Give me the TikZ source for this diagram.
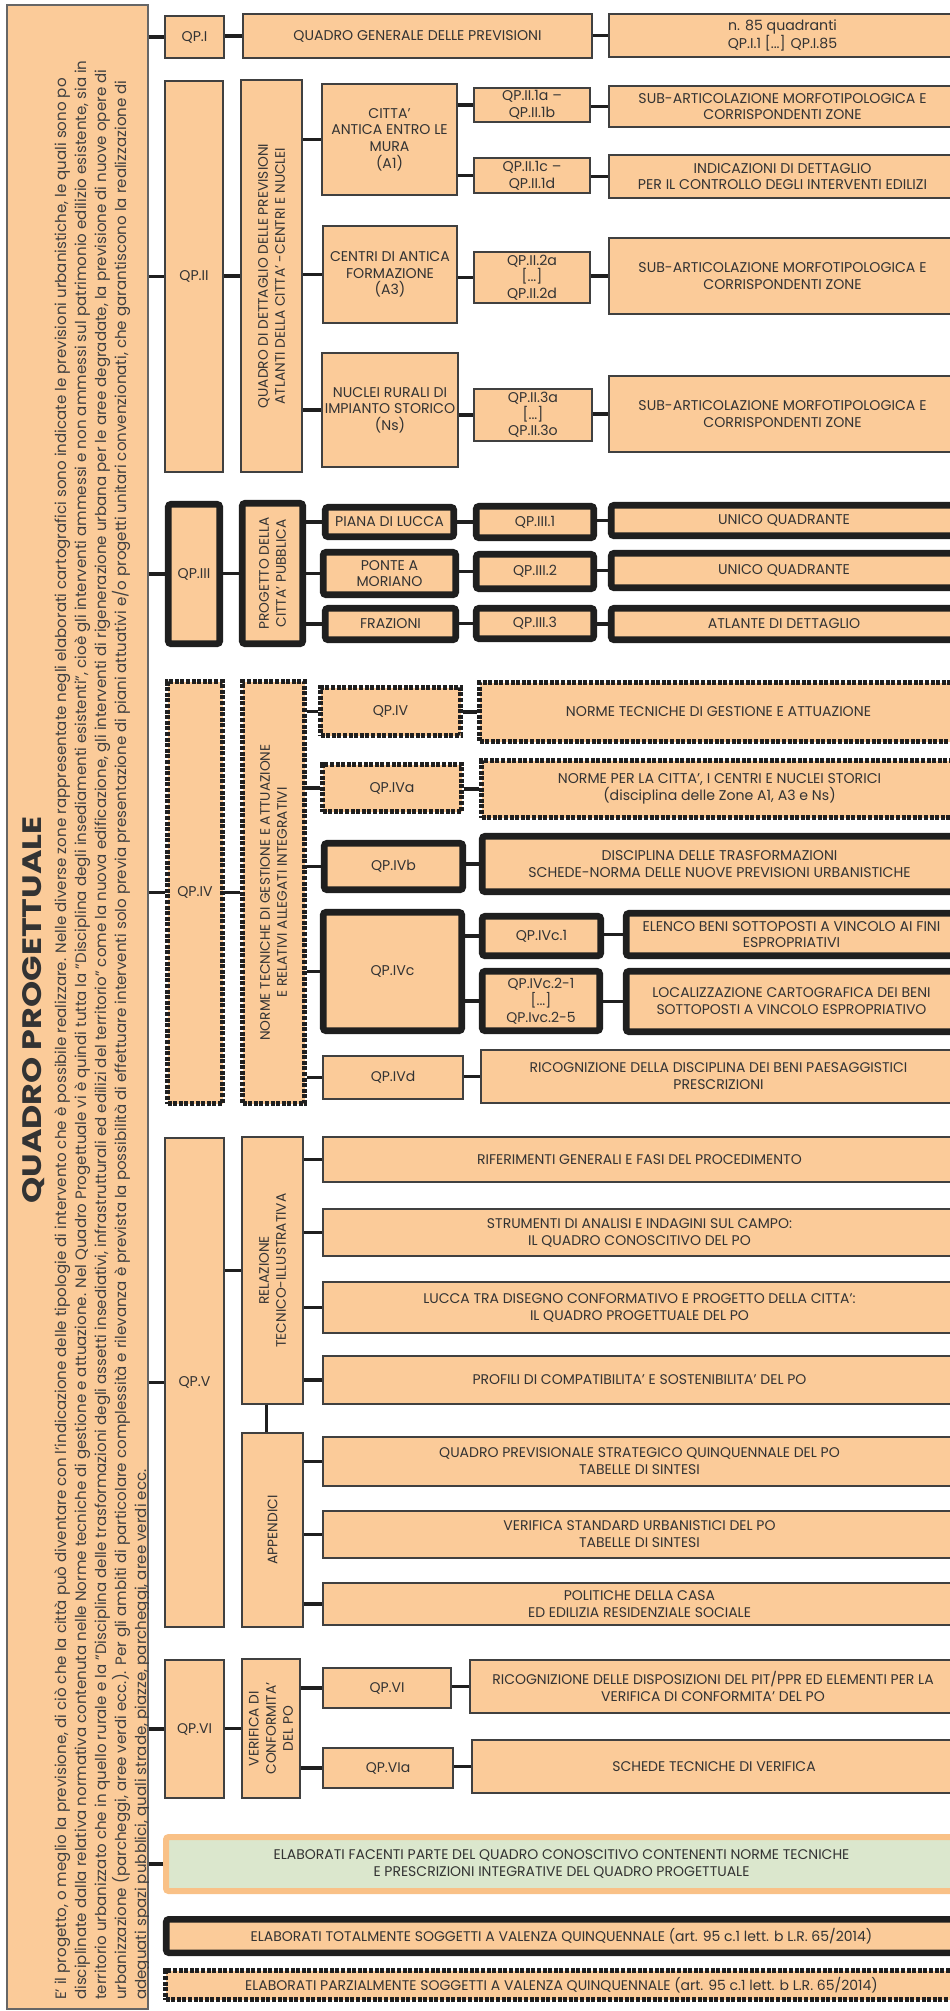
\documentclass[tikz,border=0pt]{standalone}
\usepackage{fontspec}
\setmainfont{Poppins}
\newfontfamily\largo[FakeStretch=1.25]{Poppins}
\usepackage[dvipsnames]{xcolor}
\usetikzlibrary{positioning}
\definecolor{pesca}{RGB}{251,203,153}
\definecolor{verdino}{RGB}{219,231,205}
\definecolor{bordo}{RGB}{249,193,135}

\begin{document}
\begin{tikzpicture}[x=0.75pt,y=-0.75pt]

		\tikzset{
			sz/.style 2 args={minimum width=#1*0.75pt, minimum height=#2*0.75pt},
			box/.style={draw=black!75, line width=0.8pt, fill=pesca, inner sep=0pt,
				align=center, text=black!80, font=\fontsize{10.6}{12.5}\selectfont},
			lowbox/.style={box, font=\fontsize{10.5}{12.8}\selectfont},
			thickbox/.style={box, draw=black!88, line width=4.9pt, rounded corners=2pt},
			dashbox/.style={box, draw=black!88, line width=3.8pt, dash pattern=on 3pt off 1.2pt},
			vtext/.style={rotate=90, align=center, text=black!80, font=\fontsize{10.3}{12.8}\selectfont},
			link/.style={draw=black!88, line width=2.3pt},
			riga/.style={rotate=90, inner sep=0pt, text=black!75, font=\fontsize{11.3}{15}\selectfont},
			titolo/.style={rotate=90, inner sep=0pt, text=black!80, font=\largo\bfseries\fontsize{20}{24}\selectfont}
		}

		\useasboundingbox (0,0) rectangle (950,2011);

		% colonna di sinistra
		\node[box, sz={141}{2004}, draw=black!60] (panel) at (77.5,1007) {};
		\begin{scope}
			\clip (panel.north west) rectangle (panel.south east);
			\node[titolo] (tit) at (34,1010) {QUADRO PROGETTUALE};
			\foreach \riga [count=\i] in {
				{E' il progetto, o meglio la previsione, di ciò che la città può diventare con l'indicazione delle tipologie di intervento che è possibile realizzare. Nelle diverse zone rappresentate negli elaborati cartografici sono indicate le previsioni urbanistiche, le quali sono po},
				{disciplinate dalla relativa normativa contenuta nelle Norme tecniche di gestione e attuazione. Nel Quadro Progettuale vi è quindi tutta la "Disciplina degli insediamenti esistenti", cioè gli interventi ammessi e non ammessi sul patrimonio edilizio esistente, sia in},
				{territorio urbanizzato che in quello rurale e la "Disciplina delle trasformazioni degli assetti insediativi, infrastrutturali ed edilizi del territorio" come la nuova edificazione, gli interventi di rigenerazione urbana per le aree degradate, la previsione di nuove opere di},
				{urbanizzazione (parcheggi, aree verdi ecc.). Per gli ambiti di particolare complessità e rilevanza è prevista la possibilità di effettuare interventi solo previa presentazione di piani attuativi e/o progetti unitari convenzionati, che garantiscono la realizzazione di},
				{adeguati spazi pubblici, quali strade, piazze, parcheggi, aree verdi ecc.}}
				\node[riga, anchor=base west] (riga\i) at ({46+20*\i},2000) {\riga};
		\end{scope}

		% QP.I
		\node[box, sz={59}{42}] (qp1) at (194.5,37) {QP.I};
		\node[box, sz={349}{44}] (qp1d) at (417.5,36) {QUADRO GENERALE DELLE PREVISIONI};
		\node[box, sz={347}{43}] (qp1q) at (782.5,35.5) {n. 85 quadranti\\QP.I.1 [...] QP.I.85};

		% QP.II
		\node[box, sz={58}{391}] (qp2) at (194,276.5) {QP.II};
		\node[box, sz={61}{392}] (qp2a) at (271.5,276) {};
		\node[vtext] (qp2a-t) at (qp2a) {QUADRO DI DETTAGLIO DELLE PREVISIONI\\ATLANTI DELLA CITTA' -CENTRI E NUCLEI};
		\node[box, sz={135}{111}] (citta) at (389.5,139.5) {CITTA'\\ANTICA ENTRO LE\\MURA\\(A1)};
		\node[box, sz={116}{34}] (q21) at (532,105) {QP.II.1a --\\QP.II.1b};
		\node[box, sz={347}{41}] (d21) at (782.5,106.5) {SUB-ARTICOLAZIONE MORFOTIPOLOGICA E\\CORRISPONDENTI ZONE};
		\node[box, sz={116}{35}] (q22) at (532,175.5) {QP.II.1c --\\QP.II.1d};
		\node[box, sz={347}{43}] (d22) at (782.5,176.5) {INDICAZIONI DI DETTAGLIO\\PER IL CONTROLLO DEGLI INTERVENTI EDILIZI};
		\node[box, sz={134}{97}] (centri) at (390,274.5) {CENTRI DI ANTICA\\FORMAZIONE\\(A3)};
		\node[box, sz={116}{51}] (q23) at (532,277.5) {QP.II.2a\\{}[...]\\QP.II.2d};
		\node[box, sz={347}{76}] (d23) at (782.5,276) {SUB-ARTICOLAZIONE MORFOTIPOLOGICA E\\CORRISPONDENTI ZONE};
		\node[box, sz={136}{114}] (nuclei) at (390,410) {NUCLEI RURALI DI\\IMPIANTO STORICO\\(Ns)};
		\node[box, sz={118}{52}] (q24) at (533,415) {QP.II.3a\\{}[...]\\QP.II.3o};
		\node[box, sz={347}{76}] (d24) at (782.5,414) {SUB-ARTICOLAZIONE MORFOTIPOLOGICA E\\CORRISPONDENTI ZONE};

		% QP.III
		\node[thickbox, sz={51.5}{139.5}] (qp3) at (194,574) {QP.III};
		\node[thickbox, sz={60.5}{140.5}] (qp3a) at (272.5,573.5) {};
		\node[vtext] (qp3a-t) at (qp3a) {PROGETTO DELLA\\CITTA' PUBBLICA};
		\node[thickbox, sz={128.5}{29.5}] (piana) at (389.5,522) {PIANA DI LUCCA};
		\node[thickbox, sz={132.5}{42.5}] (ponte) at (389.5,573.5) {PONTE A\\MORIANO};
		\node[thickbox, sz={130.5}{31.5}] (fraz) at (390.5,624) {FRAZIONI};
		\node[thickbox, sz={117.5}{31.5}] (q31) at (535,522) {QP.III.1};
		\node[thickbox, sz={117.5}{34.5}] (q32) at (535,571.5) {QP.III.2};
		\node[thickbox, sz={117.5}{30.5}] (q33) at (535,623.5) {QP.III.3};
		\node[thickbox, sz={345.5}{30.5}] (d31) at (784,520.5) {UNICO QUADRANTE};
		\node[thickbox, sz={345.5}{34.5}] (d32) at (784,570.5) {UNICO QUADRANTE};
		\node[thickbox, sz={345.5}{31.5}] (d33) at (784,624) {ATLANTE DI DETTAGLIO};

		% QP.IV
		\node[dashbox, sz={55}{422}] (qp4) at (195,892.5) {QP.IV};
		\node[dashbox, sz={62}{422}] (qp4a) at (273.5,892.5) {};
		\node[vtext] (qp4a-t) at (qp4a) {NORME TECNICHE DI GESTIONE E ATTUAZIONE\\E RELATIVI ALLEGATI INTEGRATIVI};
		\node[dashbox, sz={140}{48}] (q41) at (390.5,711.5) {QP.IV};
		\node[dashbox, sz={478}{59}] (d41) at (718.5,712) {NORME TECNICHE DI GESTIONE E ATTUAZIONE};
		\node[dashbox, sz={139}{47}] (q42) at (392,788) {QP.IVa};
		\node[dashbox, sz={476}{57}] (d42) at (719.5,789) {NORME PER LA CITTA', I CENTRI E NUCLEI STORICI\\(disciplina delle Zone A1, A3 e Ns)};
		\node[thickbox, sz={138.5}{46.5}] (q43) at (393.5,866.5) {QP.IVb};
		\node[thickbox, sz={474.5}{55.5}] (d43) at (719.5,864) {DISCIPLINA DELLE TRASFORMAZIONI\\SCHEDE-NORMA DELLE NUOVE PREVISIONI URBANISTICHE};
		\node[thickbox, sz={138.5}{118.5}] (q44) at (392.5,971.5) {QP.IVc};
		\node[thickbox, sz={118.5}{39.5}] (q441) at (541.5,936) {QP.IVc.1};
		\node[thickbox, sz={330.5}{42.5}] (d441) at (791.5,934.5) {ELENCO BENI SOTTOPOSTI A VINCOLO AI FINI\\ESPROPRIATIVI};
		\node[thickbox, sz={117.5}{59.5}, font=\fontsize{10.5}{12.8}\selectfont] (q442) at (541,1001) {QP.IVc.2-1\\{}[...]\\QP.Ivc.2-5};
		\node[thickbox, sz={330.5}{60.5}, font=\fontsize{10.5}{12.8}\selectfont] (d442) at (791.5,1001.5) {LOCALIZZAZIONE CARTOGRAFICA DEI BENI\\SOTTOPOSTI A VINCOLO ESPROPRIATIVO};
		\node[lowbox, sz={140}{43}] (q45) at (393,1077.5) {QP.IVd};
		\node[lowbox, sz={475}{53}] (d45) at (718.5,1076.5) {RICOGNIZIONE DELLA DISCIPLINA DEI BENI PAESAGGISTICI\\PRESCRIZIONI};

		% QP.V
		\node[box, sz={59}{489}] (qp5) at (194.5,1382.5) {QP.V};
		\node[box, sz={61}{267}] (rel) at (272.5,1270.5) {};
		\node[vtext] (rel-t) at (rel) {RELAZIONE\\TECNICO-ILLUSTRATIVA};
		\node[box, sz={61}{194}] (app) at (272.5,1530) {};
		\node[vtext] (app-t) at (app) {APPENDICI};
		\node[lowbox, sz={633}{45}] (d51) at (639.5,1159.5) {RIFERIMENTI GENERALI E FASI DEL PROCEDIMENTO};
		\node[lowbox, sz={633}{47}] (d52) at (639.5,1232.5) {STRUMENTI DI ANALISI E INDAGINI SUL CAMPO:\\IL QUADRO CONOSCITIVO DEL PO};
		\node[lowbox, sz={633}{51}] (d53) at (639.5,1307.5) {LUCCA TRA DISEGNO CONFORMATIVO E PROGETTO DELLA CITTA':\\IL QUADRO PROGETTUALE DEL PO};
		\node[lowbox, sz={633}{48}] (d54) at (639.5,1380) {PROFILI DI COMPATIBILITA' E SOSTENIBILITA' DEL PO};
		\node[lowbox, sz={633}{49}] (d55) at (639.5,1461.5) {QUADRO PREVISIONALE STRATEGICO QUINQUENNALE DEL PO\\TABELLE DI SINTESI};
		\node[lowbox, sz={633}{47}] (d56) at (639.5,1534.5) {VERIFICA STANDARD URBANISTICI DEL PO\\TABELLE DI SINTESI};
		\node[lowbox, sz={633}{42}] (d57) at (639.5,1604) {POLITICHE DELLA CASA\\ED EDILIZIA RESIDENZIALE SOCIALE};

		% QP.VI
		\node[lowbox, sz={59}{138}] (qp6) at (194.5,1729) {QP.VI};
		\node[box, sz={58}{139}] (ver) at (271,1728.5) {};
		\node[vtext] (ver-t) at (ver) {VERIFICA DI\\CONFORMITA'\\DEL PO};
		\node[lowbox, sz={128}{40}] (q61) at (387,1688) {QP.VI};
		\node[lowbox, sz={486}{53}] (d61) at (713,1686.5) {RICOGNIZIONE DELLE DISPOSIZIONI DEL PIT/PPR ED ELEMENTI PER LA\\VERIFICA DI CONFORMITA' DEL PO};
		\node[lowbox, sz={130}{40}] (q62) at (388,1768) {QP.VIa};
		\node[lowbox, sz={484}{53}] (d62) at (714,1766.5) {SCHEDE TECNICHE DI VERIFICA};

		% legenda
		\node[lowbox, sz={791}{54}, draw=bordo, line width=4.5pt, fill=verdino, rounded corners=2pt] (el1) at (561.5,1864) {ELABORATI FACENTI PARTE DEL QUADRO CONOSCITIVO CONTENENTI NORME TECNICHE\\E PRESCRIZIONI INTEGRATIVE DEL QUADRO PROGETTUALE};
		\node[thickbox, sz={790.5}{33.5}, font=\fontsize{10.5}{12.8}\selectfont] (el2) at (561.5,1936) {ELABORATI TOTALMENTE SOGGETTI A VALENZA QUINQUENNALE (art. 95 c.1 lett. b L.R. 65/2014)};
		\node[dashbox, sz={792}{29}, font=\fontsize{10.5}{12.8}\selectfont] (el3) at (561.5,1985) {ELABORATI PARZIALMENTE SOGGETTI A VALENZA QUINQUENNALE (art. 95 c.1 lett. b L.R. 65/2014)};

		% collegamenti
		\foreach \a/\b in {panel/qp1, qp1/qp1d, qp1d/qp1q,
			panel/qp2, qp2/qp2a, qp2a/citta, qp2a/centri, qp2a/nuclei,
			citta/q21, citta/q22, q21/d21, q22/d22, centri/q23, q23/d23, nuclei/q24, q24/d24,
			panel/qp3, qp3/qp3a, qp3a/piana, qp3a/ponte, qp3a/fraz,
			piana/q31, ponte/q32, fraz/q33, q31/d31, q32/d32, q33/d33,
			panel/qp4, qp4/qp4a, qp4a/q41, qp4a/q42, qp4a/q43, qp4a/q44, qp4a/q45,
			q41/d41, q42/d42, q43/d43, q44/q441, q44/q442, q441/d441, q442/d442, q45/d45,
			panel/qp5, qp5/rel, rel/d51, rel/d52, rel/d53, rel/d54, app/d55, app/d56, app/d57,
			panel/qp6, qp6/ver, ver/q61, ver/q62, q61/d61, q62/d62,
			panel/el1}
			\draw[link] (\a.east |- \b.west) -- (\b.west);
		\draw[link] ([xshift=-4.5pt]rel.south) -- ([xshift=-4.5pt]app.north);

\end{tikzpicture}
\end{document}
